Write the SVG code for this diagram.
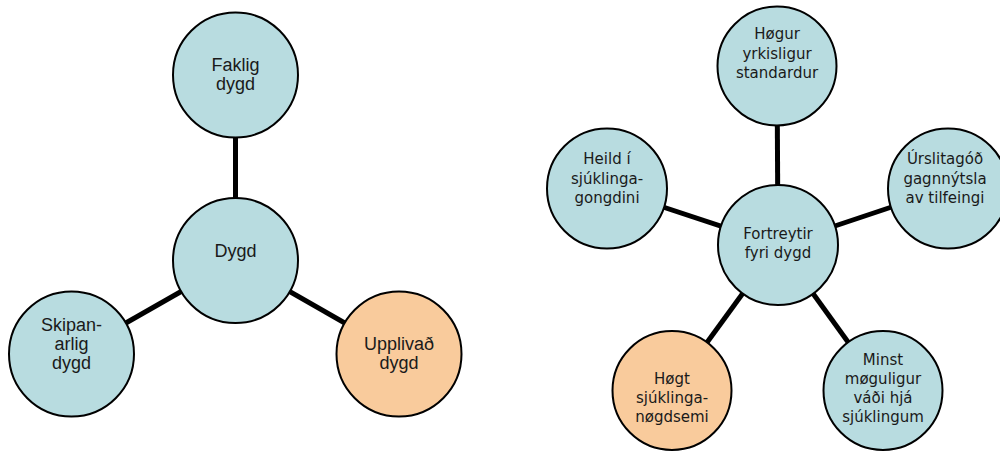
<svg xmlns="http://www.w3.org/2000/svg" width="1000" height="451" viewBox="0 0 1000 451">
<style>
.n{stroke:#000;stroke-width:2}
.b{fill:#b8dce0}
.o{fill:#f9cb9c}
.c line{stroke:#000;stroke-width:5}
.l{font-family:"Liberation Sans",Arial,sans-serif;font-size:18px;fill:#1a1a1a;text-anchor:middle}
.r{font-family:"DejaVu Sans",Verdana,sans-serif;font-size:15px;fill:#1a1a1a;text-anchor:middle}
</style>
<rect width="1000" height="451" fill="#fff"/>
<g class="c" id="connectors">
<line x1="235.5" y1="75" x2="235.5" y2="260.5"/>
<line x1="235.5" y1="260.5" x2="71.5" y2="354"/>
<line x1="235.5" y1="260.5" x2="399" y2="354"/>
<line x1="777" y1="66" x2="778" y2="245"/>
<line x1="607" y1="188.5" x2="778" y2="245"/>
<line x1="947" y1="188.5" x2="778" y2="245"/>
<line x1="778" y1="245" x2="672" y2="390.5"/>
<line x1="778" y1="245" x2="883" y2="390.5"/>
</g>
<g id="faklig"><circle class="n b" cx="235.5" cy="75" r="62.5"/><text class="l" x="235.5" y="71">Faklig</text><text class="l" x="235.5" y="90">dygd</text></g>
<g id="dygd"><circle class="n b" cx="235.5" cy="260.5" r="62.5"/><text class="l" x="235.5" y="257">Dygd</text></g>
<g id="skipan"><circle class="n b" cx="71.5" cy="354" r="62.5"/><text class="l" x="71.5" y="331">Skipan-</text><text class="l" x="71.5" y="350">arlig</text><text class="l" x="71.5" y="369">dygd</text></g>
<g id="upplivad"><circle class="n o" cx="399" cy="354" r="62.5"/><text class="l" x="399" y="350">Upplivað</text><text class="l" x="399" y="369">dygd</text></g>
<g id="hogur"><circle class="n b" cx="777" cy="66" r="59.5"/><text class="r" x="777" y="39">Høgur</text><text class="r" x="777" y="59">yrkisligur</text><text class="r" x="777" y="78">standardur</text></g>
<g id="heild"><circle class="n b" cx="607" cy="188.5" r="60"/><text class="r" x="607" y="164">Heild í</text><text class="r" x="607" y="184">sjúklinga-</text><text class="r" x="607" y="203">gongdini</text></g>
<g id="urslit"><circle class="n b" cx="948" cy="188.5" r="60"/><text class="r" x="945" y="164">Úrslitagóð</text><text class="r" x="945" y="184">gagnnýtsla</text><text class="r" x="945" y="203">av tilfeingi</text></g>
<g id="fortreytir"><circle class="n b" cx="778" cy="245" r="60"/><text class="r" x="778" y="239">Fortreytir</text><text class="r" x="778" y="258">fyri dygd</text></g>
<g id="hogt"><circle class="n o" cx="672" cy="390.5" r="59.5"/><text class="r" x="672" y="384">Høgt</text><text class="r" x="672" y="403">sjúklinga-</text><text class="r" x="672" y="422">nøgdsemi</text></g>
<g id="minst"><circle class="n b" cx="883" cy="390.5" r="59.5"/><text class="r" x="883" y="365">Minst</text><text class="r" x="883" y="384">møguligur</text><text class="r" x="883" y="403">váði hjá</text><text class="r" x="883" y="422">sjúklingum</text></g>
</svg>
